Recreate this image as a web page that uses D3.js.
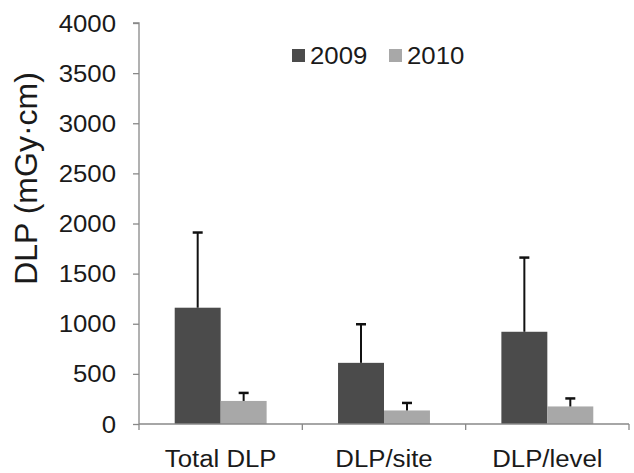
<!DOCTYPE html>
<html>
<head>
<meta charset="utf-8">
<script src="https://cdn.jsdelivr.net/npm/d3@7"></script>
<style>
  html, body { margin: 0; padding: 0; background: #ffffff; }
  text { font-family: "Liberation Sans", Arial, sans-serif; fill: #1a1a1a; }
</style>
</head>
<body>
<svg id="chart" width="634" height="473"></svg>
<script>
const categories = ["Total DLP", "DLP/site", "DLP/level"];
const seriesNames = ["2009", "2010"];
const values2009 = [1160, 610, 920];
const errors2009 = [750, 385, 740];
const values2010 = [230, 135, 175];
const errors2010 = [80, 75, 80];
const yTicks = [0, 500, 1000, 1500, 2000, 2500, 3000, 3500, 4000];
const colors = ["#4b4b4b", "#a8a8a8"];

const svg = d3.select("#chart");
const x0 = 139, x1 = 629;
const yTop = 23, yBot = 424;
const STRETCH = 1.12;

const x = d3.scaleBand().domain(categories).range([x0, x1]).paddingInner(0).paddingOuter(0);
const xs = d3.scaleBand().domain(seriesNames).range([0, x.bandwidth()]).paddingInner(0).paddingOuter(0.777);
const y = d3.scaleLinear().domain([0, 4000]).range([yBot, yTop]);

const data = categories.map((c, i) => ({
  cat: c,
  items: [
    { s: seriesNames[0], v: values2009[i], e: errors2009[i], col: colors[0] },
    { s: seriesNames[1], v: values2010[i], e: errors2010[i], col: colors[1] }
  ]
}));

function stretch(sel) {
  sel.each(function() {
    const len = this.getComputedTextLength();
    d3.select(this).attr("textLength", len * STRETCH).attr("lengthAdjust", "spacingAndGlyphs");
  });
}

// bars
const g = svg.append("g");
const groups = g.selectAll("g.cat").data(data).join("g")
  .attr("transform", d => `translate(${x(d.cat)},0)`);
groups.selectAll("rect").data(d => d.items).join("rect")
  .attr("x", d => xs(d.s))
  .attr("width", xs.bandwidth())
  .attr("y", d => y(d.v))
  .attr("height", d => y(0) - y(d.v))
  .attr("fill", d => d.col);

// error bars
groups.selectAll("g.err").data(d => d.items).join("g").attr("class", "err").each(function(d) {
  const cx = xs(d.s) + xs.bandwidth() / 2;
  const sel = d3.select(this);
  sel.append("line").attr("x1", cx).attr("x2", cx).attr("y1", y(d.v)).attr("y2", y(d.v + d.e))
    .attr("stroke", "#111").attr("stroke-width", 2);
  sel.append("line").attr("x1", cx - 5).attr("x2", cx + 5).attr("y1", y(d.v + d.e)).attr("y2", y(d.v + d.e))
    .attr("stroke", "#111").attr("stroke-width", 2.5);
});

// y axis
const yAxis = d3.axisLeft(y).tickValues(yTicks).tickSize(6).tickPadding(17).tickFormat(d3.format("d"));
const ya = svg.append("g").attr("transform", `translate(${x0},0)`).call(yAxis);
ya.select(".domain").attr("stroke", "#888").attr("stroke-width", 1.3).attr("d", `M-6,${yTop}H0V${yBot}`);
ya.selectAll(".tick line").attr("stroke", "#888").attr("stroke-width", 1.3);
ya.selectAll(".tick text").attr("font-size", 23).attr("fill", "#1a1a1a")
  .attr("font-family", "Liberation Sans, Arial, sans-serif").attr("dy", "0.35em").call(stretch);

// x axis
const xa = svg.append("g").attr("transform", `translate(0,${yBot})`);
xa.append("line").attr("x1", x0).attr("x2", x1).attr("y1", 0).attr("y2", 0)
  .attr("stroke", "#888").attr("stroke-width", 1.3);
const boundaries = categories.map(c => x(c)).concat([x1]);
xa.selectAll("line.tk").data(boundaries).join("line").attr("class", "tk")
  .attr("x1", d => d).attr("x2", d => d).attr("y1", 0).attr("y2", 6)
  .attr("stroke", "#888").attr("stroke-width", 1.3);
xa.selectAll("text").data(categories).join("text")
  .attr("x", d => x(d) + x.bandwidth() / 2)
  .attr("y", 43)
  .attr("text-anchor", "middle")
  .attr("font-size", 23)
  .text(d => d)
  .call(stretch);

// y title
svg.append("text")
  .attr("transform", `translate(37,${(72 + 285) / 2}) rotate(-90)`)
  .attr("text-anchor", "middle")
  .attr("font-size", 32)
  .text("DLP (mGy·cm)");

// legend
const legendX = [292, 389];
const lg = svg.append("g");
seriesNames.forEach((s, i) => {
  lg.append("rect").attr("x", legendX[i]).attr("y", 49).attr("width", 13).attr("height", 13).attr("fill", colors[i]);
  lg.append("text").attr("x", legendX[i] + 18).attr("y", 64).attr("font-size", 23).text(s).call(stretch);
});
</script>
</body>
</html>
